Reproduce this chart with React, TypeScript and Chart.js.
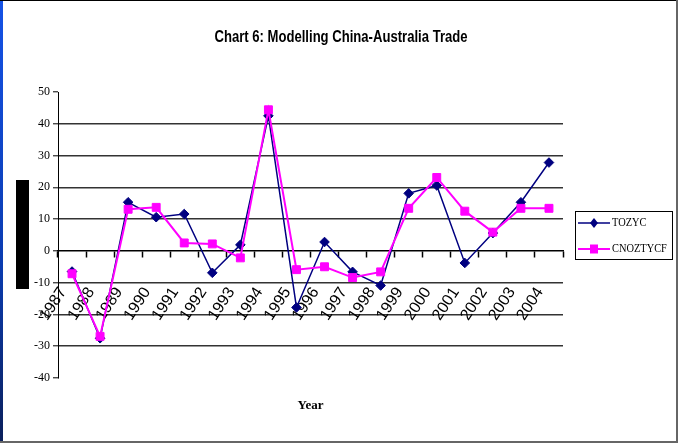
import { useEffect, useRef } from 'react';
import { Chart, registerables } from 'chart.js';

Chart.register(...registerables);

const years = ['1987', '1988', '1989', '1990', '1991', '1992', '1993', '1994', '1995', '1996', '1997', '1998', '1999', '2000', '2001', '2002', '2003', '2004'];
const tozyc = [-6.5, -27.5, 15.3, 10.6, 11.6, -6.9, 1.9, 42.5, -17.8, 2.8, -6.6, -10.9, 18.1, 20.6, -3.8, 5.6, 15.3, 27.8];
const cnoztycf = [-7.2, -26.9, 13.1, 13.7, 2.5, 2.2, -2.2, 44.4, -5.9, -5.0, -8.4, -6.6, 13.4, 23.1, 12.5, 5.9, 13.4, 13.4];
const seriesNames = ['TOZYC', 'CNOZTYCF'];
const seriesColors = ['#000080', '#FF00FF'];
const seriesMarkers = ['rectRot', 'rect'];
const yMin = -40;
const yMax = 50;
const yStep = 10;
const chartTitle = 'Chart 6: Modelling China-Australia Trade';
const xTitle = 'Year';

const SERIF = "'Liberation Serif', 'Times New Roman', serif";
const SANS = "'Liberation Sans', Arial, sans-serif";

const titlePlugin = {
  id: 'narrowTitle',
  afterDraw(chart: any) {
    const ctx = chart.ctx;
    ctx.save();
    ctx.fillStyle = '#000';
    ctx.font = `bold 17px ${SANS}`;
    ctx.textAlign = 'center';
    ctx.textBaseline = 'middle';
    ctx.translate(chart.width / 2 + 1.5, 36);
    ctx.scale(0.77, 1);
    ctx.fillText(chartTitle, 0, 0);
    ctx.restore();
  },
};

const redactPlugin = {
  id: 'redact',
  afterDraw(chart: any) {
    const ctx = chart.ctx;
    ctx.save();
    ctx.fillStyle = '#000';
    ctx.fillRect(13, 179, 13, 109);
    ctx.restore();
  },
};

const boxLegendPlugin = {
  id: 'boxLegend',
  afterDraw(chart: any) {
    const ctx = chart.ctx;
    const area = chart.chartArea;
    const x0 = area.right + 12;
    const w = 97;
    const rowGap = 26;
    const h = 48;
    const cyMid = (area.top + area.bottom) / 2;
    const y0 = Math.round(cyMid - h / 2);
    ctx.save();
    ctx.fillStyle = '#fff';
    ctx.fillRect(x0, y0, w, h);
    ctx.strokeStyle = '#000';
    ctx.lineWidth = 1;
    ctx.strokeRect(x0 + 0.5, y0 + 0.5, w, h);
    chart.data.datasets.forEach((ds: any, i: number) => {
      const cy = y0 + 12 + i * rowGap;
      const lx1 = x0 + 3;
      const lx2 = x0 + 35;
      const mx = (lx1 + lx2) / 2;
      ctx.strokeStyle = ds.borderColor;
      ctx.lineWidth = ds.borderWidth;
      ctx.beginPath();
      ctx.moveTo(lx1, cy);
      ctx.lineTo(lx2, cy);
      ctx.stroke();
      ctx.fillStyle = ds.borderColor;
      ctx.beginPath();
      if (ds.pointStyle === 'rectRot') {
        ctx.moveTo(mx, cy - 5);
        ctx.lineTo(mx + 4, cy);
        ctx.lineTo(mx, cy + 5);
        ctx.lineTo(mx - 4, cy);
        ctx.closePath();
      } else {
        ctx.rect(mx - 4, cy - 4.5, 8, 9);
      }
      ctx.fill();
      ctx.fillStyle = '#000';
      ctx.font = `13px ${SERIF}`;
      ctx.textAlign = 'left';
      ctx.textBaseline = 'middle';
      ctx.save();
      ctx.translate(lx2 + 2, cy);
      ctx.scale(0.8, 1);
      ctx.fillText(ds.label, 0, 0);
      ctx.restore();
    });
    ctx.restore();
  },
};

export default function App() {
  const ref = useRef<HTMLCanvasElement | null>(null);

  useEffect(() => {
    document.body.style.margin = '0';
    if (!ref.current) return;
    const datasets = [tozyc, cnoztycf].map((vals, i) => ({
      label: seriesNames[i],
      data: vals,
      borderColor: seriesColors[i],
      backgroundColor: seriesColors[i],
      pointBackgroundColor: seriesColors[i],
      pointBorderColor: seriesColors[i],
      pointStyle: seriesMarkers[i],
      pointRadius: i === 0 ? 4.8 : 5.6,
      pointBorderWidth: 1,
      borderWidth: i === 0 ? 1.5 : 2,
      tension: 0,
      fill: false,
      order: i === 0 ? 1 : 0,
      xAxisID: 'x',
      yAxisID: 'y',
    }));
    const chart = new Chart(ref.current, {
      type: 'line',
      data: { labels: years, datasets },
      plugins: [titlePlugin, redactPlugin, boxLegendPlugin],
      options: {
        animation: false,
        responsive: false,
        devicePixelRatio: 1,
        color: '#000',
        layout: { padding: { left: 0, right: 113, top: 91, bottom: 0 } },
        plugins: {
          legend: { display: false },
          tooltip: { enabled: false },
          title: { display: false },
        },
        scales: {
          x: {
            type: 'category',
            position: { y: 0 } as any,
            offset: true,
            grid: {
              display: true,
              drawOnChartArea: false,
              drawTicks: true,
              tickLength: 6,
              offset: true,
              tickColor: '#000',
              tickWidth: 1.5,
            },
            border: { display: true, color: '#000', width: 1.5 },
            ticks: {
              autoSkip: false,
              maxRotation: 57,
              minRotation: 57,
              labelOffset: -9,
              padding: 27,
              color: '#000',
              font: { family: SANS, size: 16 },
            },
          },
          xYear: {
            type: 'category',
            position: 'bottom',
            display: true,
            afterFit: (scale: any) => {
              scale.height = 63;
            },
            grid: { display: false },
            border: { display: false },
            ticks: { display: false },
            title: {
              display: true,
              text: xTitle,
              color: '#000',
              font: { family: SERIF, size: 13, weight: 'bold' },
              padding: { top: 19, bottom: 28 },
            },
          },
          y: {
            type: 'linear',
            min: yMin,
            max: yMax,
            afterFit: (scale: any) => {
              scale.width = 55;
            },
            ticks: {
              stepSize: yStep,
              color: '#000',
              padding: 3,
              font: { family: SERIF, size: 12 },
            },
            grid: {
              color: (c: any) => {
                const v = c.tick && c.tick.value;
                if (v === yMin || v === yMax || v === 0) return 'rgba(0,0,0,0)';
                return '#333';
              },
              lineWidth: 1.6,
              tickColor: '#000',
              tickLength: 5,
              tickWidth: 1,
            },
            border: { display: true, color: '#000', width: 1 },
          },
        },
      },
    });
    return () => chart.destroy();
  }, []);

  return (
    <div style={{ position: 'relative', width: 678, height: 443, background: '#fff', boxSizing: 'border-box', overflow: 'hidden' }}>
      <div style={{ position: 'absolute', left: 0, top: 0, width: 3, height: 443, background: 'linear-gradient(#1552e6, #0b3cb0 60%, #0a1f5a)' }} />
      <div style={{ position: 'absolute', left: 0, top: 0, width: 678, height: 1, background: '#000' }} />
      <div style={{ position: 'absolute', right: 0, top: 0, width: 2, height: 443, background: '#666' }} />
      <div style={{ position: 'absolute', left: 0, bottom: 0, width: 678, height: 2, background: '#666' }} />
      <canvas ref={ref} width={673} height={440} style={{ position: 'absolute', left: 3, top: 1, width: 673, height: 440 }} />
    </div>
  );
}
